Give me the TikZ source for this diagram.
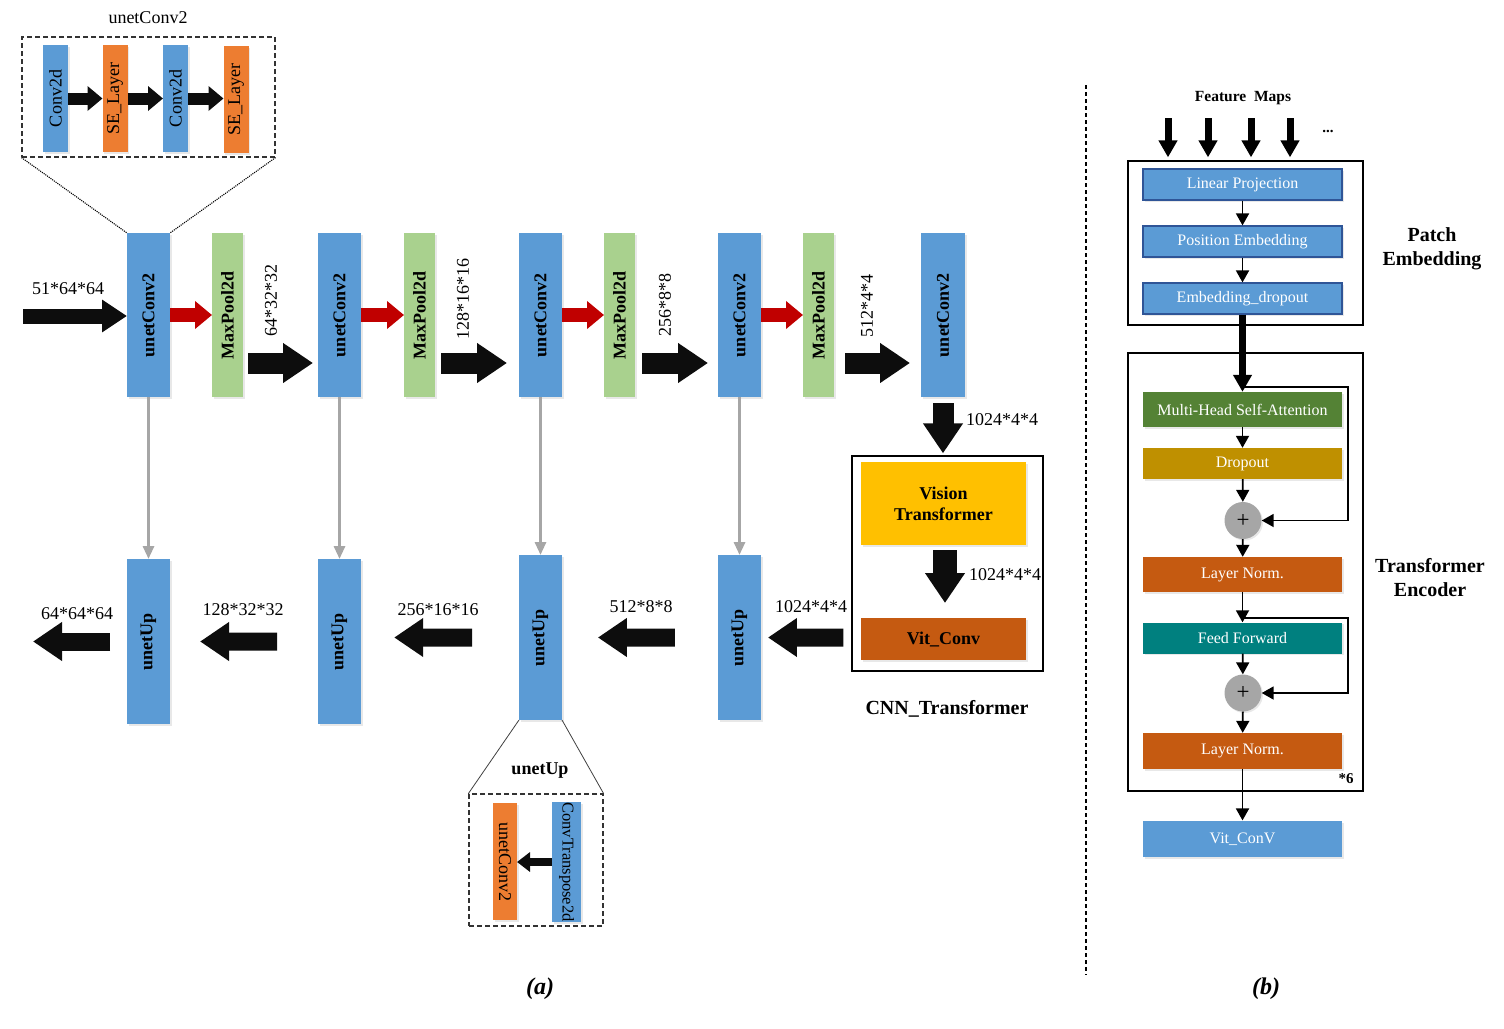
\documentclass[tikz,border=0pt]{standalone}
\usepackage{fontspec}
\setmainfont{Liberation Serif}
\usepackage{graphicx}
\usetikzlibrary{arrows.meta,calc,shadows}

\definecolor{cblue}{HTML}{5B9BD5}
\definecolor{cgreen}{HTML}{A9D18E}
\definecolor{corange}{HTML}{ED7D31}
\definecolor{cred}{HTML}{C00000}
\definecolor{cyellow}{HTML}{FFC000}
\definecolor{cbrown}{HTML}{C55A11}
\definecolor{cdgreen}{HTML}{548235}
\definecolor{cgold}{HTML}{BF9000}
\definecolor{cteal}{HTML}{00807F}
\definecolor{cgray}{HTML}{A6A6A6}
\definecolor{cnavy}{HTML}{2F5597}
\definecolor{ink}{HTML}{0D0D0D}

\begin{document}
\begin{tikzpicture}[x=1pt,y=-1pt,
  f18/.style={font=\fontsize{18pt}{21pt}\selectfont},
  f18b/.style={font=\bfseries\fontsize{18pt}{21pt}\selectfont},
  f20b/.style={font=\bfseries\fontsize{20pt}{24pt}\selectfont, align=center},
  lbl/.style={f18, inner sep=0pt},
  shade/.style={drop shadow={shadow xshift=1.5pt, shadow yshift=-1.5pt, opacity=0.18, fill=black!50}},
  blockbase/.style={inner sep=0pt, outer sep=0pt, shade},
  cbx/.style={blockbase, fill=cblue, minimum width=43pt, minimum height=164pt, f18b},
  mpx/.style={blockbase, fill=cgreen, minimum width=31pt, minimum height=164pt, f18b},
  ubx/.style={blockbase, fill=cblue, minimum width=43pt, minimum height=165pt, f18b},
  inb/.style={blockbase, minimum width=25pt, minimum height=107pt, f18},
  redarr/.style={draw=cred, line width=14pt, -{Triangle[length=17pt,width=27pt]}},
  bigarr/.style={draw=ink, line width=21pt, -{Triangle[length=30pt,width=38pt]}},
  srcarr/.style={draw=ink, line width=15pt, -{Triangle[length=25pt,width=31pt]}},
  leftarr/.style={draw=ink, line width=18pt, -{Triangle[length=29pt,width=37pt]}},
  skiparr/.style={draw=cgray, line width=3pt, -{Triangle[length=13pt,width=11pt]}},
  insarr/.style={draw=ink, line width=12pt, -{Triangle[length=15pt,width=24pt]}},
  flow/.style={draw=black, line width=1.8pt, -{Triangle[length=12pt,width=13pt]}},
  fmarr/.style={draw=black, line width=7pt, -{Triangle[length=17pt,width=18pt]}},
  pbox/.style={inner sep=0pt, shade, minimum width=199pt, minimum height=31pt, fill=cblue,
    draw=cnavy, line width=1.2pt, text=white, font=\fontsize{16pt}{18pt}\selectfont},
  ebox/.style={inner sep=0pt, shade, minimum width=199pt, text=white,
    font=\fontsize{16pt}{18pt}\selectfont},
  plus/.style={circle, fill=cgray, minimum size=37pt, inner sep=0pt, shade,
    font=\fontsize{23pt}{24pt}\selectfont},
  frame/.style={draw=black, line width=1.3pt, inner sep=0pt},
  dashframe/.style={draw=black!80, line width=1.1pt, dash pattern=on 5pt off 3pt, inner sep=0pt}
]
\useasboundingbox (0,0) rectangle (1504,1028);

% ---------- unetConv2 detail (top left) ----------
\node[f18] (t1) at (148,18) {unetConv2};
\node[dashframe, minimum width=253pt, minimum height=120pt] (ins1) at (148.5,97) {};
\node[inb, fill=cblue]   (i1) at (55.5,98.5) {\rotatebox{90}{Conv2d}};
\node[inb, fill=corange] (i2) at (115,98.5)  {\rotatebox{90}{SE\_Layer}};
\node[inb, fill=cblue]   (i3) at (175.5,98.5) {\rotatebox{90}{Conv2d}};
\node[inb, fill=corange] (i4) at (236,99.5)  {\rotatebox{90}{SE\_Layer}};
\draw[insarr] (i1.east) -- (i2.west);
\draw[insarr] (i2.east) -- (i3.west);
\draw[insarr] (i3.east) -- (i4.west |- i3.east);

% ---------- encoder row ----------
\node[cbx] (c1) at (148.5,315) {\rotatebox{90}{unetConv2}};
\node[mpx] (m1) at (227.5,315) {\rotatebox{90}{MaxPool2d}};
\node[cbx] (c2) at (339.5,315) {\rotatebox{90}{unetConv2}};
\node[mpx] (m2) at (419.5,315) {\rotatebox{90}{MaxPool2d}};
\node[cbx] (c3) at (540.5,315) {\rotatebox{90}{unetConv2}};
\node[mpx] (m3) at (619.5,315) {\rotatebox{90}{MaxPool2d}};
\node[cbx] (c4) at (739.5,315) {\rotatebox{90}{unetConv2}};
\node[mpx] (m4) at (818.5,315) {\rotatebox{90}{MaxPool2d}};
\node[cbx, minimum width=44pt] (c5) at (943,315) {\rotatebox{90}{unetConv2}};

\draw[black, line width=1.1pt, densely dotted] (ins1.south west) -- (c1.north west);
\draw[black, line width=1.1pt, densely dotted] (ins1.south east) -- (c1.north east);

\coordinate (src) at (23,316);
\draw[srcarr] (src) -- (c1.west |- src);
\node[lbl] at (68,289) {51*64*64};

\draw[redarr] (c1.east) -- (m1.west);
\draw[redarr] (c2.east) -- (m2.west);
\draw[redarr] (c3.east) -- (m3.west);
\draw[redarr] (c4.east) -- (m4.west);

\draw[bigarr] ([xshift=5pt]m1.east |- 0,363) -- ([xshift=-5pt]c2.west |- 0,363);
\draw[bigarr] ([xshift=6pt]m2.east |- 0,363) -- ([xshift=-12pt]c3.west |- 0,363);
\draw[bigarr] ([xshift=7pt]m3.east |- 0,363) -- ([xshift=-10pt]c4.west |- 0,363);
\draw[bigarr] ([xshift=11pt]m4.east |- 0,363) -- ([xshift=-11pt]c5.west |- 0,363);

\node[lbl] at (271,300) {\rotatebox{90}{64*32*32}};
\node[lbl] at (463,299) {\rotatebox{90}{128*16*16}};
\node[lbl] at (665,305) {\rotatebox{90}{256*8*8}};
\node[lbl] at (867,306) {\rotatebox{90}{512*4*4}};

% ---------- decoder row ----------
\node[ubx] (u1) at (148.5,641.5) {\rotatebox{90}{unetUp}};
\node[ubx] (u2) at (339.5,641.5) {\rotatebox{90}{unetUp}};
\node[ubx] (u3) at (540.5,637.5) {\rotatebox{90}{unetUp}};
\node[ubx] (u4) at (739.5,637.5) {\rotatebox{90}{unetUp}};

\draw[skiparr] (c1.south) -- (u1.north);
\draw[skiparr] (c2.south) -- (u2.north);
\draw[skiparr] (c3.south) -- (u3.north);
\draw[skiparr] (c4.south) -- (u4.north);

% ---------- CNN_Transformer block ----------
\node[frame, minimum width=191pt, minimum height=215pt] (ct) at (947.5,563.5) {};
\node[blockbase, fill=cyellow, minimum width=165pt, minimum height=83pt, f18b, align=center]
  (vt) at (943.5,503.5) {Vision\\Transformer};
\node[blockbase, fill=cbrown, minimum width=165pt, minimum height=42pt, f18b]
  (vc) at (943.5,639) {Vit\_Conv};
\node[f20b] at (947,709) {CNN\_Transformer};

\draw[bigarr] ([yshift=-6pt]c5.south) -- ([yshift=2pt]ct.north -| c5.south);
\node[lbl] at (1002,420) {1024*4*4};
\draw[bigarr, line width=24pt] ([xshift=1.5pt,yshift=-5pt]vt.south) -- ([xshift=1.5pt,yshift=15pt]vc.north);
\node[lbl] at (1005,575) {1024*4*4};

% arrows along the decoder
\coordinate (ctin) at (ct.west |- u4.east);
\coordinate (out) at (33,645);
\draw[leftarr] ($(ctin)!0.088!(u4.east)$) -- ($(ctin)!0.923!(u4.east)$);
\node[lbl] at (811,607) {1024*4*4};
\draw[leftarr] ($(u4.west)!0.276!(u3.east)$) -- ($(u4.west)!0.77!(u3.east)$);
\node[lbl] at (641,607) {512*8*8};
\draw[leftarr] ($(u3.west)!0.297!(u2.east |- u3.west)$) -- ($(u3.west)!0.79!(u2.east |- u3.west)$);
\node[lbl] at (438,610) {256*16*16};
\draw[leftarr] ($(u2.west)!0.277!(u1.east)$) -- ($(u2.west)!0.797!(u1.east)$);
\node[lbl] at (243,610) {128*32*32};
\draw[leftarr] ([xshift=-17pt]u1.west) -- (out |- u1.west);
\node[lbl] at (77,614) {64*64*64};

% ---------- unetUp detail (bottom) ----------
\node[dashframe, minimum width=134pt, minimum height=132pt] (ins2) at (536,860) {};
\node[f18b] at (540,771) {unetUp};
\draw[black!75, line width=0.8pt] (u3.south west) -- (ins2.north west);
\draw[black!75, line width=0.8pt] (u3.south east) -- (ins2.north east);
\node[inb, fill=corange, minimum width=24pt, minimum height=117pt] (b1) at (505,861.5)
  {\rotatebox{-90}{unetConv2}};
\node[inb, fill=cblue, minimum width=29pt, minimum height=120pt,
  font=\fontsize{16.5pt}{19pt}\selectfont] (b2) at (566.5,862)
  {\rotatebox{-90}{ConvTranspose2d}};
\draw[draw=ink, line width=8pt, -{Triangle[length=13pt,width=19pt]}] (b2.west) -- (b1.east |- b2.west);

% ---------- separator and captions ----------
\draw[black, line width=1.4pt, dash pattern=on 4pt off 3pt] (1086,85) -- (1086,975);
\node[font=\bfseries\itshape\fontsize{24pt}{28pt}\selectfont] at (540,989) {(a)};
\node[font=\bfseries\itshape\fontsize{24pt}{28pt}\selectfont] at (1266,989) {(b)};

% ---------- ViT internals ----------
\node[font=\bfseries\fontsize{15.5pt}{18pt}\selectfont] at (1243,98) {Feature\ \ Maps};
\node[font=\bfseries\fontsize{15pt}{18pt}\selectfont] at (1328,131) {...};

\node[frame, minimum width=235pt, minimum height=164pt] (pe) at (1245.5,243) {};
\node[pbox] (lp)  at (1242.5,184.5) {Linear Projection};
\node[pbox] (pos) at (1242.5,241.5) {Position Embedding};
\node[pbox] (ed)  at (1242.5,298.5) {Embedding\_dropout};
\node[f20b] at (1432,249) {Patch\\Embedding};

\coordinate (fm1) at (1168,118);
\coordinate (fm2) at (1208,118);
\coordinate (fm3) at (1251,118);
\coordinate (fm4) at (1290,118);
\foreach \k in {1,...,4} \draw[fmarr] (fm\k) -- ([yshift=3pt]fm\k |- pe.north);

\draw[flow] (lp) -- (pos);
\draw[flow] (pos) -- (ed);

\node[frame, minimum width=235pt, minimum height=438pt] (te) at (1245.5,572) {};
\node[ebox, fill=cdgreen, minimum height=35pt] (mh) at (1242.5,409.5) {Multi-Head Self-Attention};
\node[ebox, fill=cgold, minimum height=31pt] (dr) at (1242.5,463.5) {Dropout};
\node[plus] (p1) at (1243,520.5) {+};
\node[ebox, fill=cbrown, minimum height=35pt] (ln1) at (1242.5,574.5) {Layer Norm.};
\node[ebox, fill=cteal, minimum height=31pt] (ff) at (1242.5,638) {Feed Forward};
\node[plus] (p2) at (1243,693) {+};
\node[ebox, fill=cbrown, minimum height=36pt] (ln2) at (1242.5,751) {Layer Norm.};
\node[pbox, draw=none, minimum height=36pt] (vcv) at (1242.5,839) {Vit\_ConV};
\node[f20b] at (1430,578) {Transformer\\Encoder};
\node[font=\bfseries\fontsize{15pt}{18pt}\selectfont] at (1346,779) {*6};

\draw[draw=black, line width=7pt, -{Triangle[length=17pt,width=18pt]}] (ed.south) -- (mh.north);
\draw[flow] (mh) -- (dr);
\draw[flow] (dr) -- (p1);
\draw[flow] (p1) -- (ln1);
\draw[flow] (ln1) -- (ff);
\draw[flow] (ff) -- (p2);
\draw[flow] (p2) -- (ln2);
\draw[flow] (ln2) -- (vcv);

\coordinate (r1) at ([yshift=5pt]mh.north);
\coordinate (r2) at ([yshift=4pt]ff.north);
\draw[flow] (r1) -| ([xshift=-16pt]te.east |- p1.east) -- (p1.east);
\draw[flow] (r2) -| ([xshift=-16pt]te.east |- p2.east) -- (p2.east);
\end{tikzpicture}
\end{document}
